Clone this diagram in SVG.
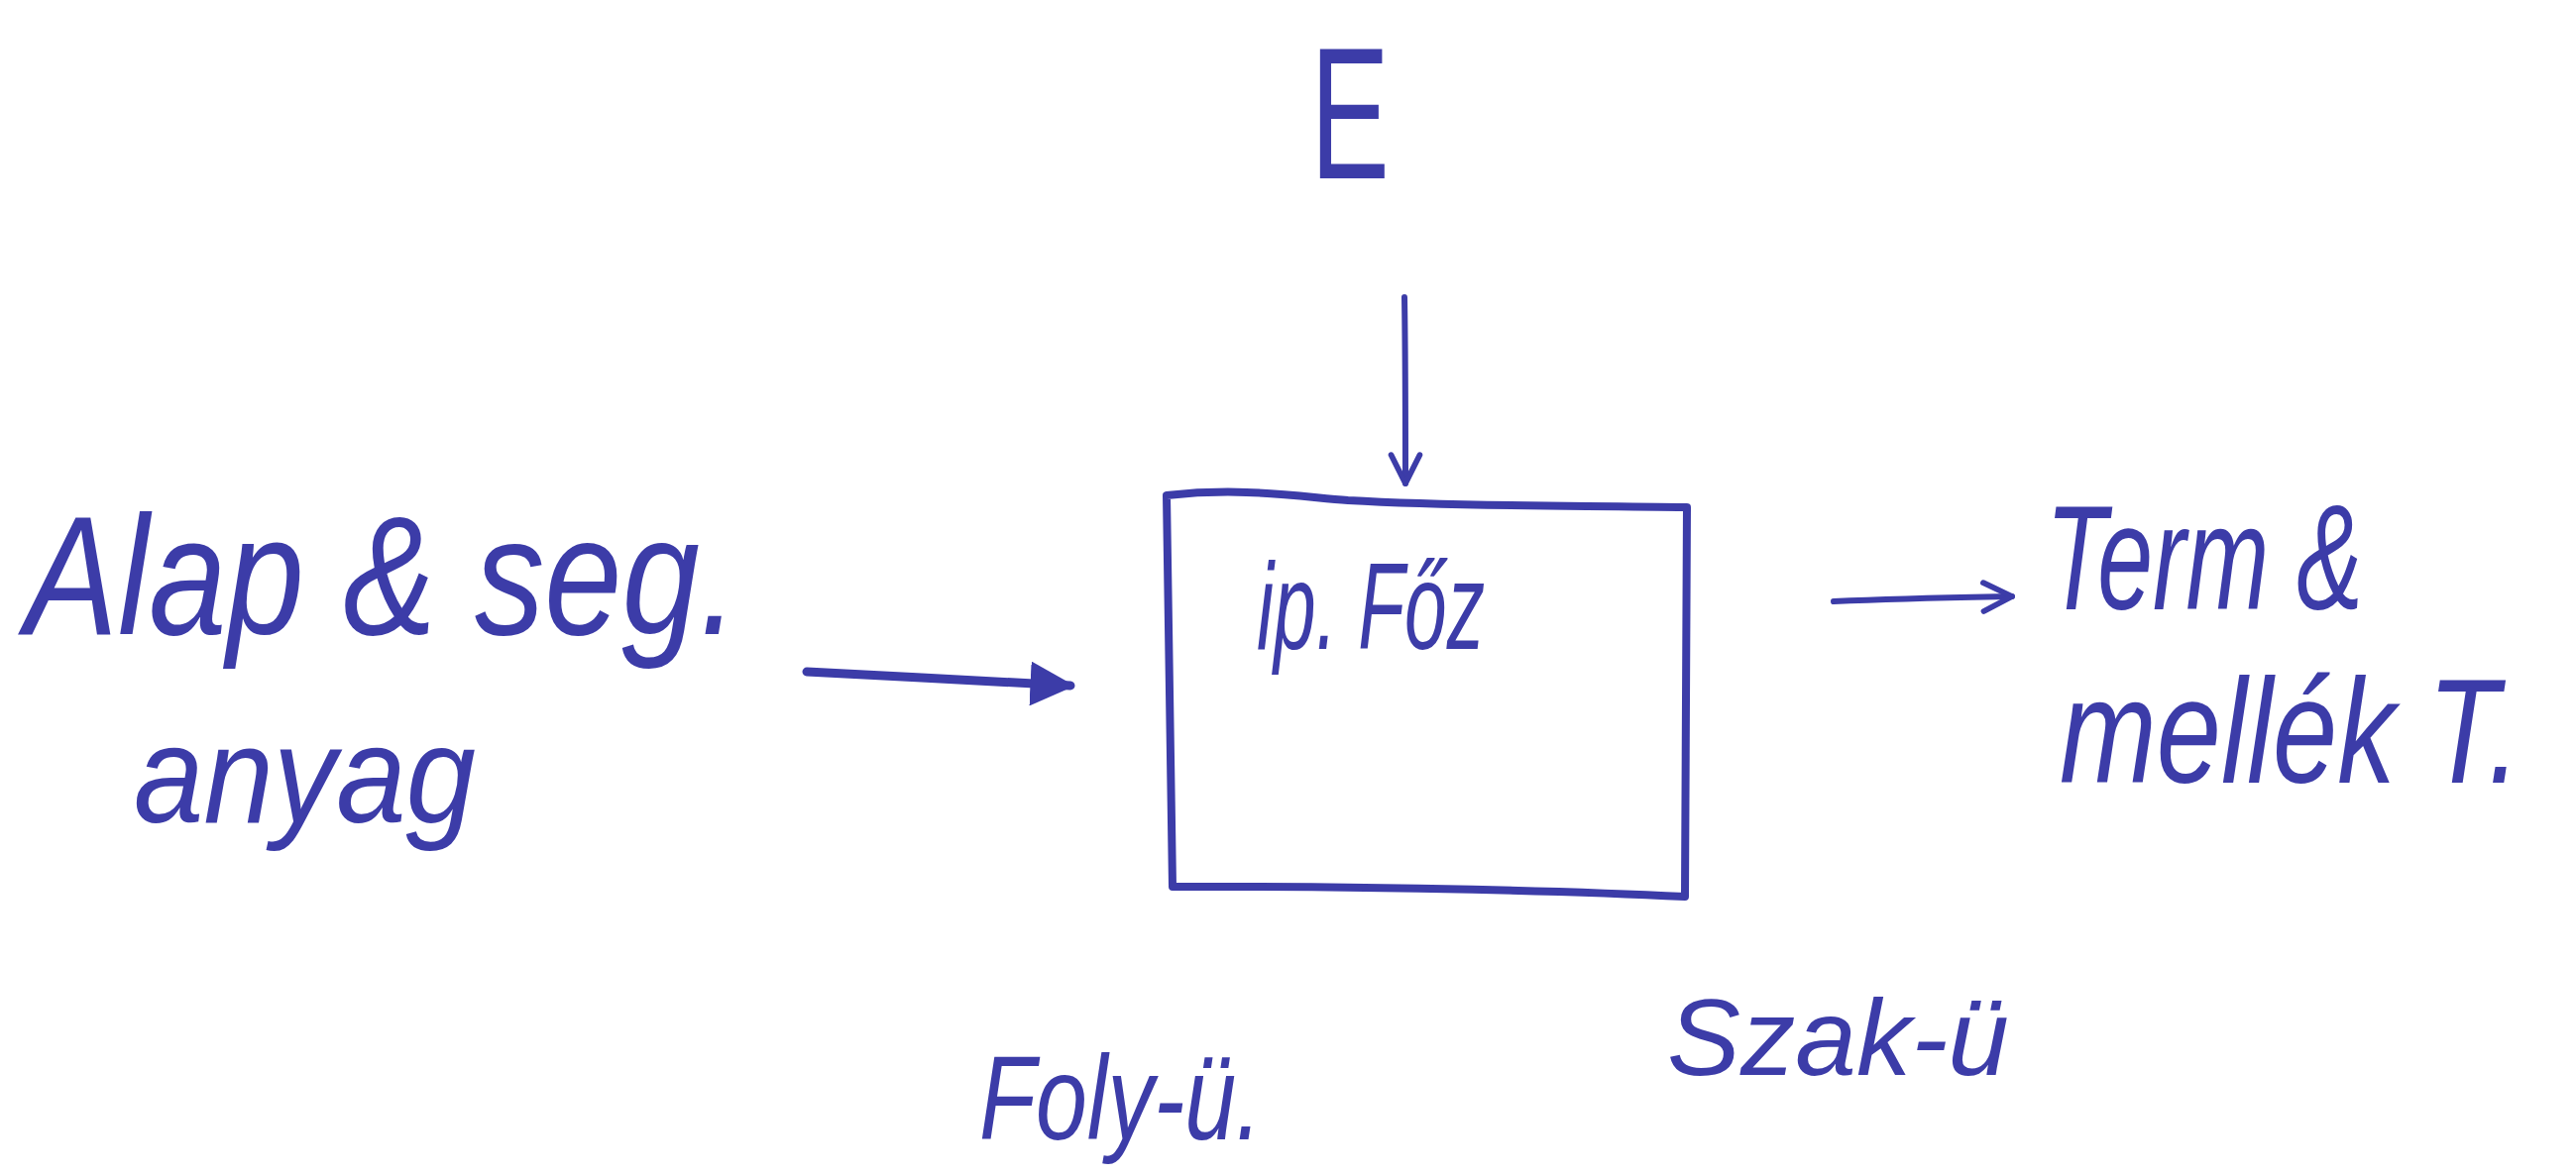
<svg xmlns="http://www.w3.org/2000/svg" width="2599" height="1187" viewBox="0 0 2599 1187">
<defs>
<style>
.ink{fill:#3c3ca8;font-family:"Liberation Sans","DejaVu Sans",sans-serif;font-style:italic}
.up{font-style:normal}
.ln{fill:none;stroke:#3c3ca8;stroke-linecap:round;stroke-linejoin:round}
</style>
<marker id="ah" viewBox="0 0 10 10" refX="9" refY="5" markerWidth="6" markerHeight="6" orient="auto" markerUnits="strokeWidth">
<path d="M1,1 L9,5 L1,9" fill="none" stroke="#3c3ca8" stroke-width="1.6" stroke-linecap="round" stroke-linejoin="round"/>
</marker>
<marker id="ahf" viewBox="0 0 10 10" refX="9" refY="5" markerWidth="5" markerHeight="5" orient="auto" markerUnits="strokeWidth">
<path d="M0,0 L10,5 L0,10 z" fill="#3c3ca8"/>
</marker>
</defs>
<rect width="2599" height="1187" fill="#ffffff"/>
<g id="energy">
<text class="ink up" x="1322" y="180" font-size="190" textLength="80" lengthAdjust="spacingAndGlyphs">E</text>
</g>
<g id="process">
<path class="ln" stroke-width="8" d="M1177,500 C1250,492 1300,500 1360,505 C1480,512 1600,510 1702,512 L1700,905 C1600,900 1400,894 1183,895 Z"/>
<text class="ink" x="1268" y="655" font-size="125" textLength="230" lengthAdjust="spacingAndGlyphs">ip. Főz</text>
</g>
<g id="input">
<text class="ink" x="25" y="640" font-size="170" textLength="720" lengthAdjust="spacingAndGlyphs">Alap &amp; seg.</text>
<text class="ink" x="135" y="830" font-size="140" textLength="345" lengthAdjust="spacingAndGlyphs">anyag</text>
</g>
<g id="output">
<text class="ink" x="2064" y="615" font-size="150" textLength="320" lengthAdjust="spacingAndGlyphs">Term &amp;</text>
<text class="ink" transform="translate(2078,790) scale(1,1.2)" x="0" y="0" font-size="125" textLength="465" lengthAdjust="spacingAndGlyphs">mellék T.</text>
</g>
<g id="mode-cont">
<text class="ink" x="988" y="1150" font-size="120" textLength="285" lengthAdjust="spacingAndGlyphs">Foly-ü.</text>
</g>
<g id="mode-batch">
<text class="ink" x="1682" y="1085" font-size="110" textLength="345" lengthAdjust="spacingAndGlyphs">Szak-ü</text>
</g>
<g id="connectors">
<path class="ln" stroke-width="9" d="M814,678 C900,682 1000,688 1080,692" marker-end="url(#ahf)"/>
<path class="ln" stroke-width="6" d="M1417,300 C1418,360 1418,420 1418,488" marker-end="url(#ah)"/>
<path class="ln" stroke-width="6" d="M1850,607 C1920,604 1980,603 2030,602" marker-end="url(#ah)"/>
</g>
</svg>
